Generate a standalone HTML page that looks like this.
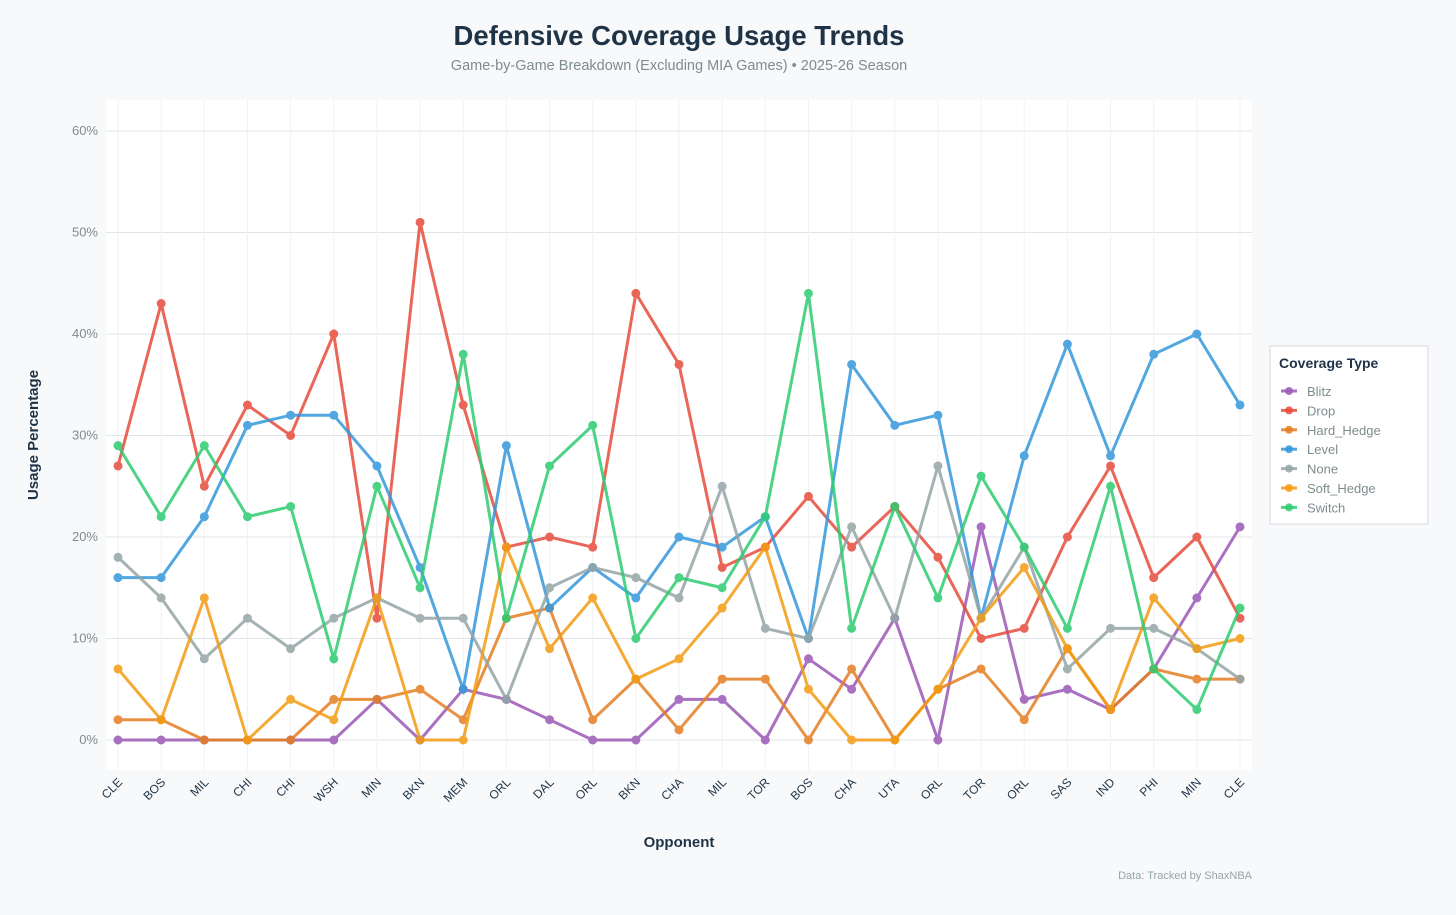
<!DOCTYPE html>
<html><head><meta charset="utf-8"><style>
body{margin:0;background:#f8f9fa;font-family:"Liberation Sans",sans-serif;}
svg text{font-family:"Liberation Sans",sans-serif;}
</style></head><body>
<svg id="chart" width="1456" height="910">
<rect width="1456" height="910" fill="#f8f9fa"/>
<rect x="106" y="100" width="1146" height="670" fill="#ffffff"/>
<text x="679" y="45" text-anchor="middle" font-size="27.5" font-weight="bold" fill="#1f3347">Defensive Coverage Usage Trends</text>
<text x="679" y="70" text-anchor="middle" font-size="14.5" fill="#7f8c8d">Game-by-Game Breakdown (Excluding MIA Games) • 2025-26 Season</text>
<text transform="translate(38,435) rotate(-90)" text-anchor="middle" font-size="15" font-weight="bold" fill="#1f3347">Usage Percentage</text>
<text x="679" y="847" text-anchor="middle" font-size="15" font-weight="bold" fill="#1f3347">Opponent</text>
<text x="1252" y="879" text-anchor="end" font-size="11" fill="#95a5a6">Data: Tracked by ShaxNBA</text>
<g id="grid"></g><g id="series"></g><g id="xt"></g>
<g>
<rect x="1270" y="346" width="158" height="178" fill="#fff" stroke="#d5d8dc"/>
<text x="1279" y="368" font-size="14" font-weight="bold" fill="#1f3347">Coverage Type</text>
<g id="leg"></g>
</g>
</svg>
<script>
const categories=["CLE","BOS","MIL","CHI","CHI","WSH","MIN","BKN","MEM","ORL","DAL","ORL","BKN","CHA","MIL","TOR","BOS","CHA","UTA","ORL","TOR","ORL","SAS","IND","PHI","MIN","CLE"];
const seriesNames=["Blitz","Drop","Hard_Hedge","Level","None","Soft_Hedge","Switch"];
const seriesColors=["#9b59b6","#e74c3c","#e67e22","#3498db","#95a5a6","#f39c12","#2ecc71"];
const blitz=[0,0,0,0,0,0,4,0,5,4,2,0,0,4,4,0,8,5,12,0,21,4,5,3,7,14,21];
const drop=[27,43,25,33,30,40,12,51,33,19,20,19,44,37,17,19,24,19,23,18,10,11,20,27,16,20,12];
const hardHedge=[2,2,0,0,0,4,4,5,2,12,13,2,6,1,6,6,0,7,0,5,7,2,9,3,7,6,6];
const level=[16,16,22,31,32,32,27,17,5,29,13,17,14,20,19,22,10,37,31,32,12,28,39,28,38,40,33];
const none=[18,14,8,12,9,12,14,12,12,4,15,17,16,14,25,11,10,21,12,27,12,19,7,11,11,9,6];
const softHedge=[7,2,14,0,4,2,14,0,0,19,9,14,6,8,13,19,5,0,0,5,12,17,9,3,14,9,10];
const switchV=[29,22,29,22,23,8,25,15,38,12,27,31,10,16,15,22,44,11,23,14,26,19,11,25,7,3,13];
const yTicks=[0,10,20,30,40,50,60];
const allSeries=[blitz,drop,hardHedge,level,none,softHedge,switchV];
const NS="http://www.w3.org/2000/svg";
const x=i=>118+i*(1240-118)/(categories.length-1);
const y=v=>740-v*10.15;
function mk(t,a,p){const e=document.createElementNS(NS,t);for(const k in a)e.setAttribute(k,a[k]);p.appendChild(e);return e;}
const grid=document.getElementById('grid');
yTicks.forEach(t=>{
 const l=mk('line',{x1:106,x2:1252,y1:y(t),y2:y(t),stroke:'#e1e4e8','stroke-width':1},grid);
 
 
 const tx=mk('text',{x:98,y:y(t)+4,'text-anchor':'end','font-size':13,fill:'#7f8c8d'},grid);tx.textContent=t+'%';
 
 
});
const xt=document.getElementById('xt');
categories.forEach((c,i)=>{
 const l=mk('line',{x1:x(i),x2:x(i),y1:100,y2:770,stroke:'#f0f2f4','stroke-width':1},grid);
 
 
 const t=mk('text',{transform:`translate(${x(i)+5},${783}) rotate(-45)`,'text-anchor':'end','font-size':12,fill:'#1f3347'},xt);t.textContent=c;
 
 
});
const sg=document.getElementById('series');
allSeries.forEach((vals,s)=>{
 const g=mk('g',{opacity:0.85},sg);
 
 
 const pl=mk('polyline',{points:vals.map((v,i)=>x(i)+','+y(v)).join(' '),fill:'none',stroke:seriesColors[s],'stroke-width':3},g);
 
 
 vals.forEach((v,i)=>{
  const c=mk('circle',{cx:x(i),cy:y(v),r:4,fill:seriesColors[s],stroke:seriesColors[s],'stroke-width':1},g);
  
  
 });
});
const leg=document.getElementById('leg');
seriesNames.forEach((n,s)=>{
 const yy=391+s*19.4;
 const l=mk('line',{x1:1281,x2:1297,y1:yy,y2:yy,stroke:seriesColors[s],'stroke-width':3,opacity:0.85},leg);
 
 
 const c=mk('circle',{cx:1289,cy:yy,r:4,fill:seriesColors[s],opacity:0.85},leg);
 
 
 const t=mk('text',{x:1307,y:yy+5,'font-size':13,fill:'#7f8c8d'},leg);t.textContent=n;
 
 
});
</script>
</body></html>
